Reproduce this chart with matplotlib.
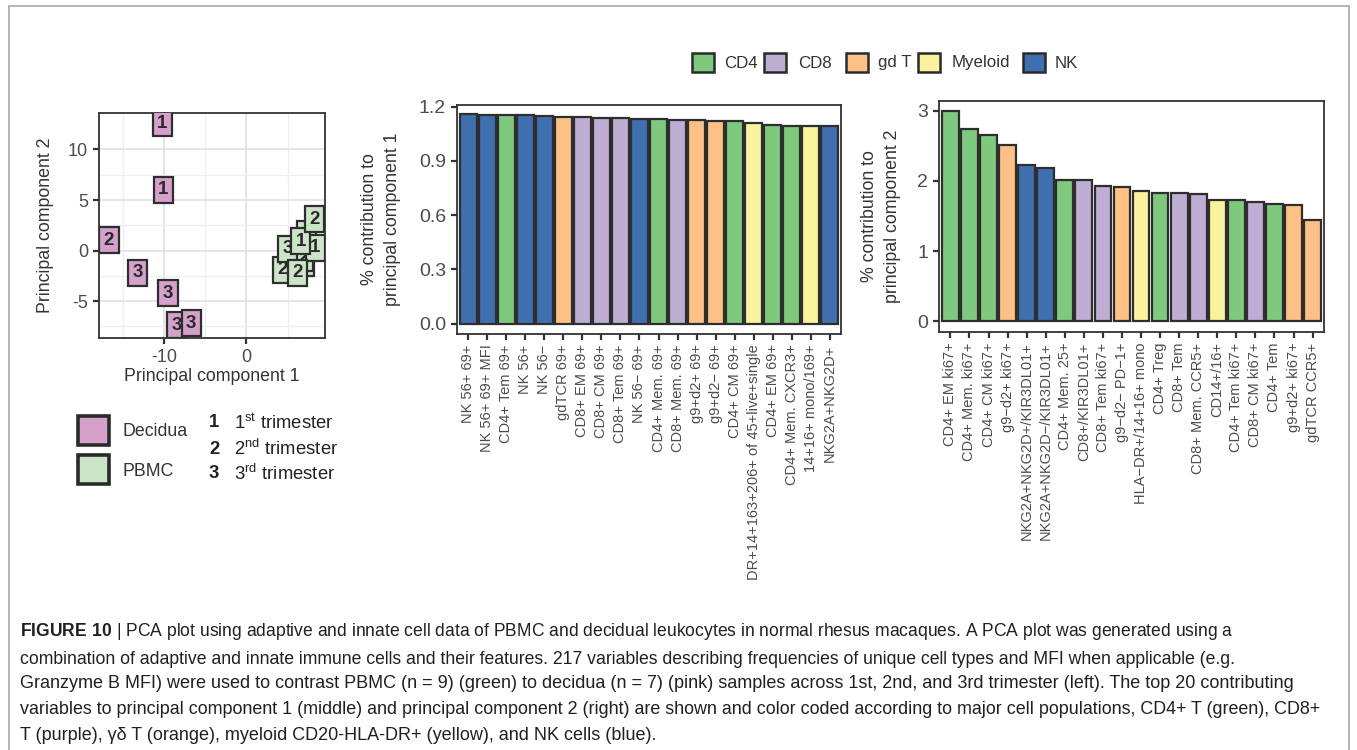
import matplotlib
matplotlib.use("Agg")
import matplotlib.pyplot as plt
from matplotlib.patches import Rectangle
from matplotlib import font_manager

# ---------------- data ----------------
pca_group = ["Decidua"] * 7 + ["PBMC"] * 9
pca_trimester = ["1", "1", "2", "3", "3", "3", "3",
                 "3", "2", "2", "3", "1", "1", "1", "2", "2"]
pca_pc1 = [-10.2, -10.1, -16.7, -13.2, -9.5, -8.5, -6.7,
           7.0, 4.4, 6.9, 5.0, 7.3, 8.4, 6.6, 6.2, 8.3]
pca_pc2 = [12.6, 6.0, 1.0, -2.2, -4.2, -7.4, -7.2,
           -1.2, -1.9, -0.7, 0.2, 1.6, 0.3, 0.9, -2.2, 3.1]
pca_xticks = [-10, 0]
pca_xticklabels = ["-10", "0"]
pca_yticks = [-5, 0, 5, 10]
pca_yticklabels = ["-5", "0", "5", "10"]

pc1_labels = ["NK 56+ 69+", "NK 56+ 69+ MFI", "CD4+ Tem 69+", "NK 56+", "NK 56\u2212",
              "gdTCR 69+", "CD8+ EM 69+", "CD8+ CM 69+", "CD8+ Tem 69+", "NK 56\u2212 69+",
              "CD4+ Mem. 69+", "CD8+ Mem. 69+", "g9+d2+ 69+", "g9+d2\u2212 69+", "CD4+ CM 69+",
              "DR+14+163+206+ of 45+live+single", "CD4+ EM 69+", "CD4+ Mem. CXCR3+",
              "14+16+ mono/169+", "NKG2A+NKG2D+"]
pc1_values = [1.160, 1.157, 1.154, 1.153, 1.150, 1.144, 1.142, 1.138, 1.137, 1.135,
              1.132, 1.129, 1.127, 1.124, 1.122, 1.113, 1.097, 1.096, 1.094, 1.093]
pc1_types = ["NK", "NK", "CD4", "NK", "NK", "gd T", "CD8", "CD8", "CD8", "NK",
             "CD4", "CD8", "gd T", "gd T", "CD4", "Myeloid", "CD4", "CD4", "Myeloid", "NK"]
pc1_yticks = [0, 0.3, 0.6, 0.9, 1.2]
pc1_yticklabels = ["0.0", "0.3", "0.6", "0.9", "1.2"]

pc2_labels = ["CD4+ EM ki67+", "CD4+ Mem. ki67+", "CD4+ CM ki67+", "g9\u2212d2+ ki67+",
              "NKG2A+NKG2D+/KIR3DL01+", "NKG2A+NKG2D\u2212/KIR3DL01+", "CD4+ Mem. 25+",
              "CD8+/KIR3DL01+", "CD8+ Tem ki67+", "g9\u2212d2\u2212 PD\u22121+",
              "HLA\u2212DR+/14+16+ mono", "CD4+ Treg", "CD8+ Tem", "CD8+ Mem. CCR5+",
              "CD14+/16+", "CD4+ Tem ki67+", "CD8+ CM ki67+", "CD4+ Tem", "g9+d2+ ki67+",
              "gdTCR CCR5+"]
pc2_values = [2.996, 2.744, 2.649, 2.506, 2.221, 2.183, 2.016, 2.007, 1.926, 1.916,
              1.864, 1.836, 1.826, 1.812, 1.736, 1.726, 1.702, 1.679, 1.655, 1.450]
pc2_types = ["CD4", "CD4", "CD4", "gd T", "NK", "NK", "CD4", "CD8", "CD8", "gd T",
             "Myeloid", "CD4", "CD8", "CD8", "Myeloid", "CD4", "CD8", "CD4", "gd T", "gd T"]
pc2_yticks = [0, 1, 2, 3]
pc2_yticklabels = ["0", "1", "2", "3"]

type_names = ["CD4", "CD8", "gd T", "Myeloid", "NK"]
type_colors = {"CD4": "#7FC97F", "CD8": "#BEAED4", "gd T": "#FDC086",
               "Myeloid": "#F8F39C", "NK": "#3F6FAF"}
group_names = ["Decidua", "PBMC"]
group_colors = {"Decidua": "#D5A1CB", "PBMC": "#CBE6C6"}
trimester_text = [("1", "1", "st"), ("2", "2", "nd"), ("3", "3", "rd")]

# ---------------- style ----------------
fams = {f.name for f in font_manager.fontManager.ttflist}
FONT = "Liberation Sans" if "Liberation Sans" in fams else "DejaVu Sans"
plt.rcParams["font.family"] = [FONT, "DejaVu Sans"]
plt.rcParams["mathtext.fontset"] = "custom"
plt.rcParams["mathtext.rm"] = FONT
plt.rcParams["mathtext.bf"] = FONT + ":bold"
TXT = "#333333"
TICK = "#4D4D4D"
EDGE = "#2E2E2E"

W, H = 1357, 750
fig = plt.figure(figsize=(W / 100, H / 100), dpi=100)
fig.patch.set_facecolor("white")


def px_rect(l, t, r, b):
    return [l / W, 1 - b / H, (r - l) / W, (b - t) / H]


def style_axes(ax):
    for s in ax.spines.values():
        s.set_color("#333333")
        s.set_linewidth(1.3)
    ax.tick_params(axis="both", colors="#333333", width=1.6, length=4.5,
                   labelcolor=TICK)


# figure frame
fig.add_artist(Rectangle((9 / W, -0.01), (1349 - 9) / W, 1 - 6 / H + 0.01,
                         transform=fig.transFigure, fill=False,
                         ec="#A8A8A8", lw=1.2))

# ---------------- PCA panel ----------------
ax0 = fig.add_axes(px_rect(99, 113, 325, 338))
style_axes(ax0)
ax0.set_xlim(-17.9, 9.55)
ax0.set_ylim(-8.64, 13.6)
ax0.set_xticks(pca_xticks)
ax0.set_xticklabels(pca_xticklabels)
ax0.set_yticks(pca_yticks)
ax0.set_yticklabels(pca_yticklabels)
ax0.set_xticks([-15, -5, 5], minor=True)
ax0.set_yticks([-7.5, -2.5, 2.5, 7.5], minor=True)
ax0.tick_params(which="minor", length=0)
ax0.grid(True, which="major", color="#E3E3E3", lw=1.3)
ax0.grid(True, which="minor", color="#EFEFEF", lw=0.9)
ax0.set_axisbelow(True)
ax0.tick_params(labelsize=13)
ax0.set_xlabel("Principal component 1", fontsize=12.8, color=TXT)
ax0.set_ylabel("Principal component 2", fontsize=12.8, color=TXT)
ax0.xaxis.set_label_coords(0.5, (338 - 368) / 225)
ax0.yaxis.set_label_coords((54 - 99) / 226, 0.5)
for i in range(len(pca_pc1)):
    ax0.text(pca_pc1[i], pca_pc2[i], pca_trimester[i], ha="center", va="center",
             fontsize=13.5, fontweight="bold", color="#2A2A2A", clip_on=True,
             bbox=dict(boxstyle="square,pad=0.24", fc=group_colors[pca_group[i]],
                       ec=EDGE, lw=1.6))

# PCA legend
for name, top in zip(group_names, [415, 454]):
    fig.add_artist(Rectangle((78 / W, 1 - (top + 30) / H), 31 / W, 29 / H,
                             transform=fig.transFigure, fc=group_colors[name],
                             ec="#2A2A2A", lw=2.6))
    fig.text(123 / W, 1 - (top + 17) / H, name, fontsize=12.8, color=TXT,
             ha="left", va="center")
for (num, lab, sup), yc in zip(trimester_text, [423, 449, 474]):
    fig.text(209 / W, 1 - yc / H, num, fontsize=13.3, fontweight="bold",
             color="#222222", ha="left", va="center")
    fig.text(234 / W, 1 - yc / H, r"%s$^{\mathrm{%s}}$ trimester" % (lab, sup),
             fontsize=13.3, color="#222222", ha="left", va="center")


# ---------------- bar panels ----------------
def bar_panel(rect, labels, values, types, ylim, yticks, yticklabels, ylabel,
              label_right):
    ax = fig.add_axes(px_rect(*rect))
    style_axes(ax)
    x = list(range(1, len(values) + 1))
    ax.bar(x, values, width=0.88, color=[type_colors[t] for t in types],
           edgecolor=EDGE, linewidth=1.6)
    ax.set_xlim(0.4, len(values) + 0.6)
    ax.set_ylim(*ylim)
    ax.set_yticks(yticks)
    ax.set_yticklabels(yticklabels)
    ax.set_xticks(x)
    ax.set_xticklabels(labels, rotation=90, ha="center", va="top", fontsize=10.5,
                       color=TICK)
    ax.tick_params(axis="y", labelsize=14)
    ax.tick_params(axis="x", pad=3)
    ax.set_ylabel(ylabel, fontsize=12.8, color=TXT, linespacing=1.45)
    l, t, r, b = rect
    ax.yaxis.set_label_coords((label_right - l) / (r - l), 0.5)
    return ax


ax1 = bar_panel((457, 105, 841, 334), pc1_labels, pc1_values, pc1_types,
                (-0.058, 1.21), pc1_yticks, pc1_yticklabels,
                "% contribution to\nprincipal component 1", 401)
ax2 = bar_panel((939, 100.5, 1324, 332), pc2_labels, pc2_values, pc2_types,
                (-0.15, 3.146), pc2_yticks, pc2_yticklabels,
                "% contribution to\nprincipal component 2", 901)

# type legend at top
leg_boxes = [692, 764, 846, 918, 1023]
leg_texts = [724, 798, 878, 952, 1055]
for name, bx, tx in zip(type_names, leg_boxes, leg_texts):
    fig.add_artist(Rectangle((bx / W, 1 - 72 / H), 22 / W, 19 / H,
                             transform=fig.transFigure, fc=type_colors[name],
                             ec="#2A2A2A", lw=1.8))
    fig.text(tx / W, 1 - 63 / H, name, fontsize=12.2, color=TXT, ha="left",
             va="center")

# ---------------- caption ----------------
cap_lines = [
    r"$\mathbf{FIGURE\ 10}$ | PCA plot using adaptive and innate cell data of PBMC and decidual leukocytes in normal rhesus macaques. A PCA plot was generated using a",
    "combination of adaptive and innate immune cells and their features. 217 variables describing frequencies of unique cell types and MFI when applicable (e.g.",
    "Granzyme B MFI) were used to contrast PBMC (n = 9) (green) to decidua (n = 7) (pink) samples across 1st, 2nd, and 3rd trimester (left). The top 20 contributing",
    "variables to principal component 1 (middle) and principal component 2 (right) are shown and color coded according to major cell populations, CD4+ T (green), CD8+",
    "T (purple), \u03b3\u03b4 T (orange), myeloid CD20-HLA-DR+ (yellow), and NK cells (blue).",
]
cap_y = [632, 659, 684, 710, 735]
cap_fs = [12.65, 12.7, 13.0, 12.9, 13.0]
CAPC = "#231F20"
for line, yy, fs in zip(cap_lines, cap_y, cap_fs):
    fig.text(20 / W, 1 - yy / H, line, fontsize=fs, color=CAPC, ha="left",
             va="center")

fig.savefig("out.png", dpi=100, facecolor="white")
